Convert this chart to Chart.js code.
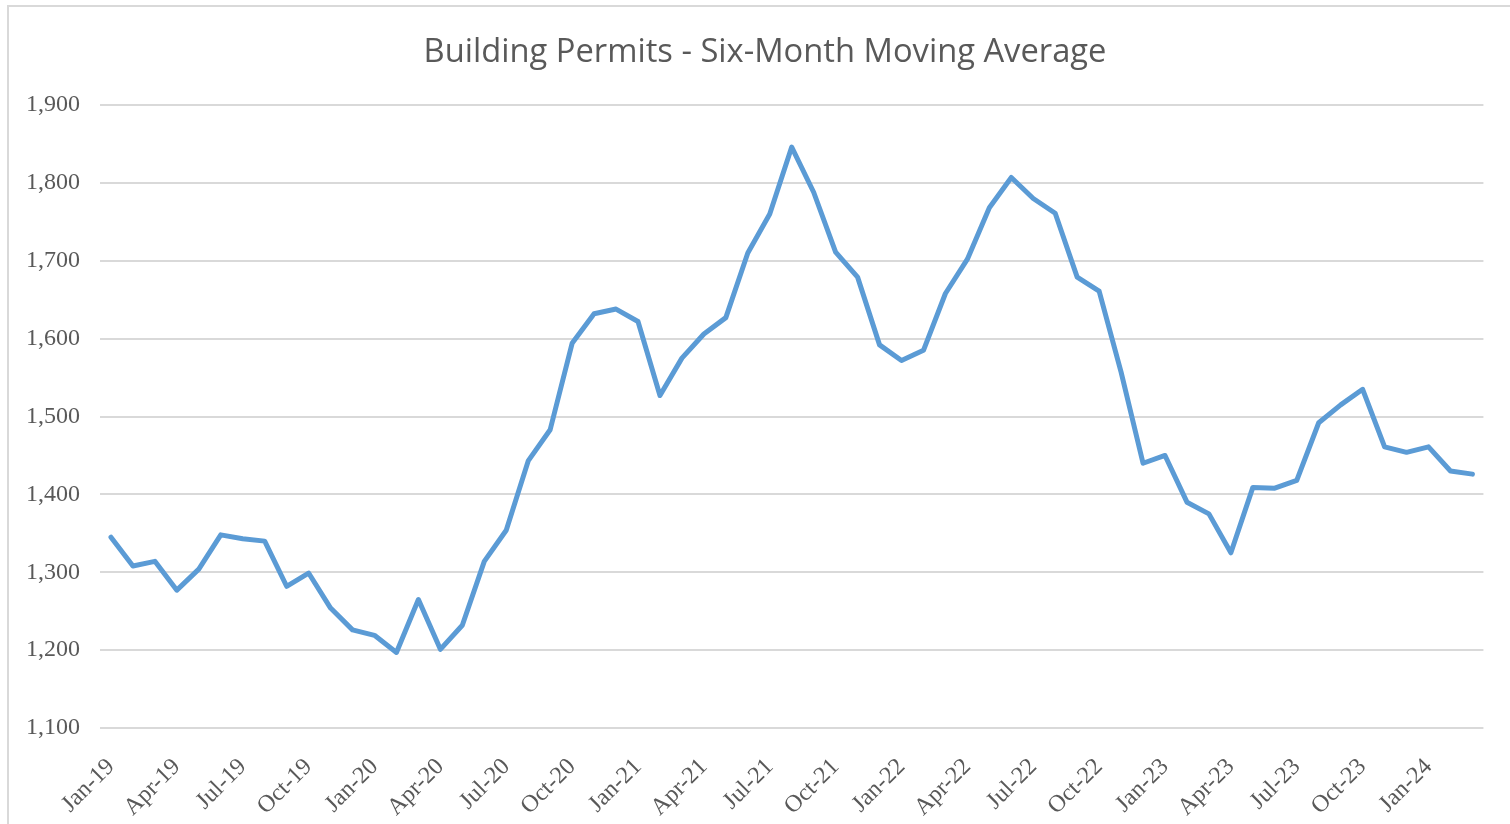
<!DOCTYPE html>
<html>
<head>
<meta charset="utf-8">
<script src="https://cdn.jsdelivr.net/npm/chart.js@4"></script>
<style>
    body { margin: 0; background: #fff; }
    #wrap { position: relative; width: 1510px; height: 824px; }
    #frame {
        position: absolute; left: 7px; top: 5px; width: 1510px; height: 817px;
        border-left: 2px solid #d9d9d9; border-top: 2px solid #d9d9d9; border-bottom: 2px solid #d9d9d9;
        pointer-events: none;
    }
</style>
</head>
<body>
<div id="wrap">
    <canvas id="permitsChart" width="1510" height="824"></canvas>
    <div id="frame"></div>
</div>
<script>
// Monthly categories, Jan-19 .. Mar-24
const months = [
    'Jan-19', 'Feb-19', 'Mar-19', 'Apr-19', 'May-19', 'Jun-19', 'Jul-19', 'Aug-19', 'Sep-19', 'Oct-19', 'Nov-19', 'Dec-19',
    'Jan-20', 'Feb-20', 'Mar-20', 'Apr-20', 'May-20', 'Jun-20', 'Jul-20', 'Aug-20', 'Sep-20', 'Oct-20', 'Nov-20', 'Dec-20',
    'Jan-21', 'Feb-21', 'Mar-21', 'Apr-21', 'May-21', 'Jun-21', 'Jul-21', 'Aug-21', 'Sep-21', 'Oct-21', 'Nov-21', 'Dec-21',
    'Jan-22', 'Feb-22', 'Mar-22', 'Apr-22', 'May-22', 'Jun-22', 'Jul-22', 'Aug-22', 'Sep-22', 'Oct-22', 'Nov-22', 'Dec-22',
    'Jan-23', 'Feb-23', 'Mar-23', 'Apr-23', 'May-23', 'Jun-23', 'Jul-23', 'Aug-23', 'Sep-23', 'Oct-23', 'Nov-23', 'Dec-23',
    'Jan-24', 'Feb-24', 'Mar-24'
];

// Six-month moving average of permits
const permitsAvg = [
    1345, 1308, 1314, 1277, 1304, 1348, 1343, 1340, 1282, 1299, 1254, 1226,
    1219, 1197, 1265, 1201, 1232, 1314, 1354, 1443, 1483, 1594, 1632, 1638,
    1622, 1527, 1575, 1606, 1627, 1710, 1760, 1846, 1788, 1711, 1679, 1592,
    1572, 1585, 1658, 1702, 1768, 1807, 1780, 1761, 1679, 1661, 1557, 1440,
    1450, 1390, 1375, 1325, 1409, 1408, 1418, 1492, 1515, 1535, 1461, 1454,
    1461, 1430, 1426
];

// y axis range
const yMin = 1100;
const yMax = 1900;
const yStep = 100;

const textColor = '#595959';
const gridColor = '#d9d9d9';

// nudge the title box so its centre sits where the original one does
const titleShift = {
    id: 'titleShift',
    afterLayout(chart) {
        if (chart.titleBlock) chart.titleBlock.left = 45;
    }
};

const ctx = document.getElementById('permitsChart').getContext('2d');
const permitsChart = new Chart(ctx, {
    type: 'line',
    data: {
        labels: months,
        datasets: [{
            label: 'Building Permits',
            data: permitsAvg,
            borderColor: '#5b9bd5',
            borderWidth: 5,
            pointRadius: 0,
            tension: 0,
            fill: false,
            borderJoinStyle: 'round',
            borderCapStyle: 'round'
        }]
    },
    plugins: [titleShift],
    options: {
        responsive: false,
        devicePixelRatio: 1,
        animation: false,
        layout: { padding: { left: 0, right: 25, top: 0, bottom: 0 } },
        plugins: {
            legend: { display: false },
            tooltip: { enabled: false },
            title: {
                display: true,
                text: 'Building Permits - Six-Month Moving Average',
                color: textColor,
                font: { family: 'Open Sans', size: 32.7, weight: 'normal' },
                padding: { top: 33, bottom: 32.8 }
            }
        },
        scales: {
            x: {
                offset: true,
                grid: { display: false },
                border: { display: false },
                ticks: {
                    autoSkip: false,
                    maxRotation: 45,
                    minRotation: 45,
                    padding: 17,
                    color: textColor,
                    font: { family: 'Liberation Serif', size: 24 },
                    callback: function(val, i) {
                        return i % 3 === 0 ? months[i] : '';
                    }
                },
                afterFit: s => { s.height = 96; }
            },
            y: {
                min: yMin,
                max: yMax,
                grid: { color: gridColor, lineWidth: 2, drawTicks: false },
                border: { display: false },
                ticks: {
                    stepSize: yStep,
                    padding: 20,
                    color: textColor,
                    font: { family: 'Liberation Serif', size: 24 }
                },
                afterFit: s => { s.width = 100; }
            }
        }
    }
});
</script>
</body>
</html>
